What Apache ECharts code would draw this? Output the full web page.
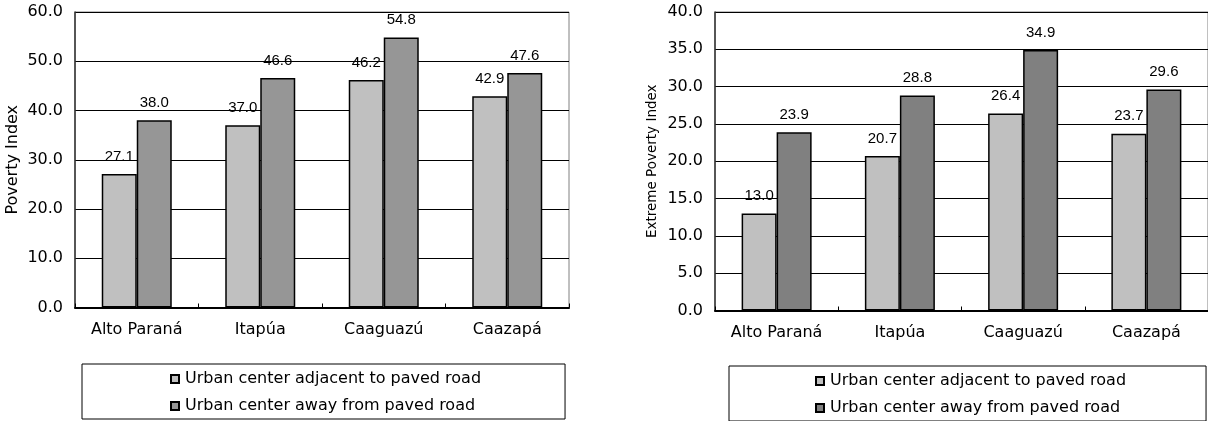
<!DOCTYPE html>
<html>
<head>
<meta charset="utf-8">
<script src="https://cdn.jsdelivr.net/npm/echarts@6/dist/echarts.min.js"></script>
<style>
  html, body { margin: 0; padding: 0; background: #fff; }
  #wrap { position: relative; width: 1208px; height: 421px; }
  #povChart { position: absolute; left: 0; top: 0; width: 604px; height: 421px; }
  #extChart { position: absolute; left: 604px; top: 0; width: 604px; height: 421px; }
</style>
</head>
<body>
<div id="wrap">
  <div id="povChart"></div>
  <div id="extChart"></div>
</div>
<script>
// Departments compared in both panels
const categories = ['Alto Paraná', 'Itapúa', 'Caaguazú', 'Caazapá'];
const seriesNames = ['Urban center adjacent to paved road', 'Urban center away from paved road'];

// Poverty index by department
const povertyAdjacent = [27.1, 37.0, 46.2, 42.9];
const povertyAway = [38.0, 46.6, 54.8, 47.6];

// Extreme poverty index by department
const extremeAdjacent = [13.0, 20.7, 26.4, 23.7];
const extremeAway = [23.9, 28.8, 34.9, 29.6];

const VERDANA = 'Verdana, "DejaVu Sans", sans-serif';
const ARIAL = 'Arial, "Liberation Sans", sans-serif';

function buildOption(cfg) {
  const barSeries = (name, data, color) => ({
    name: name,
    type: 'bar',
    data: data,
    barWidth: 35,
    barGap: '0%',
    itemStyle: { color: color, borderColor: '#000', borderWidth: 1.5 },
    label: {
      show: true,
      position: 'top',
      distance: 10,
      color: '#000',
      fontFamily: ARIAL,
      fontSize: 15,
      formatter: p => Number(p.value).toFixed(1)
    },
    emphasis: { disabled: true }
  });
  return {
    animation: false,
    backgroundColor: '#fff',
    grid: {
      left: cfg.grid.left, top: cfg.grid.top, width: cfg.grid.width, height: cfg.grid.height,
      outerBoundsMode: 'none',
      containLabel: false,
      show: true, borderColor: '#808080', borderWidth: 1, backgroundColor: '#fff'
    },
    legend: {
      orient: 'vertical',
      left: cfg.legend.left,
      top: cfg.legend.top,
      padding: cfg.legend.padding,
      itemWidth: 8,
      itemHeight: 8,
      itemGap: 11,
      icon: 'rect',
      borderColor: '#000',
      borderWidth: 1,
      backgroundColor: '#fff',
      selectedMode: false,
      textStyle: { fontFamily: VERDANA, fontSize: 16, color: '#000', padding: [0, 0, 0, 1] },
      data: seriesNames
    },
    xAxis: {
      type: 'category',
      data: categories,
      axisLine: { show: true, lineStyle: { color: '#000', width: 2 } },
      axisTick: { show: true, inside: true, length: 4, lineStyle: { color: '#000' } },
      axisLabel: { margin: 14, color: '#000', fontFamily: VERDANA, fontSize: 16 },
      splitLine: { show: false }
    },
    yAxis: {
      type: 'value',
      min: 0,
      max: cfg.yMax,
      interval: cfg.yStep,
      name: cfg.yName,
      nameLocation: 'middle',
      nameGap: cfg.nameGap,
      nameRotate: 90,
      nameMoveOverlap: false,
      nameTextStyle: { fontFamily: VERDANA, fontSize: cfg.nameSize, color: '#000' },
      axisLine: { show: true, lineStyle: { color: '#333', width: 1.5 } },
      axisTick: { show: false },
      axisLabel: {
        margin: 12, color: '#000', fontFamily: VERDANA, fontSize: 16,
        formatter: v => v.toFixed(1)
      },
      splitLine: { show: true, lineStyle: { color: '#000', width: 1 } }
    },
    series: [
      barSeries(seriesNames[0], cfg.adjacent, '#C0C0C0'),
      barSeries(seriesNames[1], cfg.away, cfg.darkColor)
    ]
  };
}

const povChart = echarts.init(document.getElementById('povChart'), null, { renderer: 'canvas' });
povChart.setOption(buildOption({
  grid: { left: 75, top: 12, width: 494, height: 295.5 },
  legend: { left: 82, top: 364, padding: [7, 84, 5, 88] },
  yMax: 60, yStep: 10,
  yName: 'Poverty Index', nameGap: 54, nameSize: 16,
  adjacent: povertyAdjacent, away: povertyAway, darkColor: '#969696'
}));

const extChart = echarts.init(document.getElementById('extChart'), null, { renderer: 'canvas' });
extChart.setOption(buildOption({
  grid: { left: 111, top: 12, width: 493, height: 298.5 },
  legend: { left: 125, top: 366, padding: [7, 80, 5, 86] },
  yMax: 40, yStep: 5,
  yName: 'Extreme Poverty Index', nameGap: 56, nameSize: 13.5,
  adjacent: extremeAdjacent, away: extremeAway, darkColor: '#808080'
}));
</script>
</body>
</html>
